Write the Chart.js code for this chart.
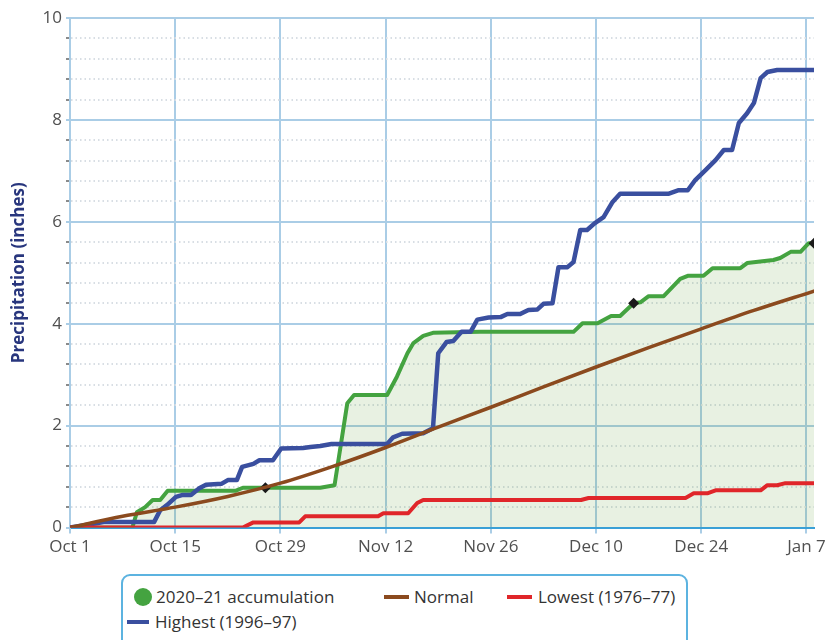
<!DOCTYPE html>
<html>
<head>
<meta charset="utf-8">
<script src="https://cdn.jsdelivr.net/npm/chart.js@4.4.1/dist/chart.umd.min.js"></script>
<style>
  body { margin:0; background:#fff; width:829px; height:640px; overflow:hidden; position:relative; font-family:"Open Sans", sans-serif; }
  #wrap { position:absolute; left:0; top:0; width:829px; height:565px; }
  #legend { position:absolute; left:121px; top:574px; width:567px; height:90px; border:2px solid #5cb3e0; border-radius:9px; box-sizing:border-box; }
  .item { position:absolute; font-size:17px; line-height:20px; color:#333; white-space:nowrap; }
  .sw { position:absolute; height:4px; }
  .dot { position:absolute; width:18px; height:18px; border-radius:50%; background:#44a340; }
</style>
</head>
<body>
<div id="wrap"><canvas id="chart" width="829" height="565"></canvas></div>
<div id="legend"></div>
<div class="dot" style="left:134px;top:588px"></div>
<div class="item" style="left:156px;top:587px">2020–21 accumulation</div>
<div class="sw" style="left:384px;top:595px;width:25px;background:#8b4a1e"></div>
<div class="item" style="left:414px;top:587px">Normal</div>
<div class="sw" style="left:507px;top:595px;width:25px;background:#e0262a"></div>
<div class="item" style="left:538px;top:587px">Lowest (1976–77)</div>
<div class="sw" style="left:127px;top:620px;width:22px;background:#3a4f9f"></div>
<div class="item" style="left:155px;top:612px">Highest (1996–97)</div>
<script>
// --- Data (day 0 = Oct 1) ---
const xTickLabels = ['Oct 1','Oct 15','Oct 29','Nov 12','Nov 26','Dec 10','Dec 24','Jan 7'];

const greenDays = [0, 8.3, 8.9, 10, 11, 12, 13, 22, 23, 26, 33.3, 35.2, 36.9, 37.8, 42.2, 43.5, 44.9, 45.7, 47, 48.3, 54.6, 67, 68.2, 70.2, 72, 73.2, 75, 75.9, 77, 79, 81.2, 82.2, 84.3, 85.5, 89.2, 90.1, 93.6, 94.5, 95.9, 97.2, 98.3, 99];
const greenVals = [0, 0, 0.30, 0.40, 0.54, 0.54, 0.72, 0.72, 0.78, 0.78, 0.78, 0.83, 2.44, 2.60, 2.60, 2.96, 3.42, 3.62, 3.76, 3.82, 3.84, 3.84, 4.01, 4.01, 4.15, 4.15, 4.40, 4.42, 4.54, 4.54, 4.88, 4.94, 4.94, 5.09, 5.09, 5.19, 5.25, 5.29, 5.41, 5.41, 5.58, 5.58];
const markerDays = [26, 75, 99];

const blueDays = [0, 3.3, 4.7, 11.2, 12, 12.9, 14.1, 15, 16.1, 17.2, 18.1, 20.2, 21, 22.2, 22.9, 24.4, 25.2, 27, 28.1, 31, 32, 33.3, 34.8, 42.2, 43, 44.2, 47, 47.9, 48.3, 49, 50.1, 51, 52.1, 53.3, 54.2, 55.7, 57.3, 58.2, 59.9, 61, 62.2, 63, 64.2, 65, 66.2, 67, 67.9, 68.8, 69.8, 71, 72.2, 73.2, 79.6, 81, 82.2, 83.2, 84.6, 85.9, 87, 88.1, 89, 90.1, 91, 91.9, 92.8, 94.1, 99];
const blueVals = [0, 0.08, 0.11, 0.11, 0.34, 0.44, 0.60, 0.64, 0.64, 0.77, 0.84, 0.86, 0.93, 0.93, 1.19, 1.25, 1.32, 1.32, 1.55, 1.56, 1.58, 1.60, 1.64, 1.64, 1.77, 1.84, 1.85, 1.92, 1.95, 3.42, 3.64, 3.66, 3.84, 3.84, 4.08, 4.12, 4.13, 4.19, 4.19, 4.27, 4.28, 4.39, 4.40, 5.11, 5.11, 5.21, 5.84, 5.84, 5.97, 6.09, 6.39, 6.55, 6.55, 6.62, 6.62, 6.82, 7.02, 7.21, 7.41, 7.41, 7.94, 8.13, 8.33, 8.82, 8.94, 8.98, 8.98];

const redDays = [0, 23, 24.4, 30.5, 31.3, 41, 41.7, 45, 46.2, 47, 68, 69, 81.9, 83, 84.8, 85.9, 91.9, 92.8, 94.1, 95.2, 99];
const redVals = [0, 0, 0.10, 0.10, 0.22, 0.22, 0.28, 0.28, 0.48, 0.54, 0.54, 0.58, 0.58, 0.67, 0.67, 0.73, 0.73, 0.83, 0.83, 0.87, 0.87];

const normalDays = [0, 7, 14, 21, 28, 35, 42, 49, 56, 63, 70, 77, 84, 91, 99];
const normalVals = [0, 0.22, 0.40, 0.61, 0.87, 1.20, 1.57, 1.97, 2.36, 2.76, 3.15, 3.53, 3.90, 4.26, 4.64];

const pts = (xs, ys) => xs.map((x, i) => ({x, y: ys[i]}));
const isMajor = v => Math.abs(v / 2 - Math.round(v / 2)) < 1e-6;

new Chart(document.getElementById('chart'), {
  type: 'line',
  data: {
    datasets: [
      {label:'Normal', data:pts(normalDays, normalVals), borderColor:'#8b4a1e', borderWidth:3.5, pointRadius:0, cubicInterpolationMode:'monotone'},
      {label:'Lowest (1976–77)', data:pts(redDays, redVals), borderColor:'#e0262a', borderWidth:4, pointRadius:0},
      {label:'Highest (1996–97)', data:pts(blueDays, blueVals), borderColor:'#3a4f9f', borderWidth:4.5, pointRadius:0},
      {label:'2020–21 accumulation', data:pts(greenDays, greenVals), borderColor:'#44a340', borderWidth:4,
        fill:'origin', backgroundColor:'rgba(100,160,60,0.15)',
        pointStyle:'rectRot', pointBackgroundColor:'#1a1a1a', pointBorderColor:'#1a1a1a', pointBorderWidth:0,
        pointRadius: ctx => (ctx.raw && markerDays.includes(ctx.raw.x)) ? 5.5 : 0}
    ]
  },
  options: {
    responsive:false, animation:false,
    elements:{ line:{ borderJoinStyle:'round', borderCapStyle:'round' } },
    layout:{ padding:{ top:18, right:15, bottom:0, left:0 } },
    plugins:{ legend:{display:false}, tooltip:{enabled:false} },
    scales:{
      x:{
        type:'linear', min:0, max:99,
        afterFit: s => { s.height = 37.5; },
        ticks:{ stepSize:14, includeBounds:false, autoSkip:false, maxRotation:0, padding:3,
          color:'#505050', font:{family:'Open Sans', size:17},
          callback: v => xTickLabels[v / 14] ?? '' },
        grid:{ color:'#aacde6', lineWidth:2, tickLength:6, tickColor:'#aacde6' },
        border:{ color:'#3aa0d8', width:2 }
      },
      y:{
        min:0, max:10,
        afterFit: s => { s.width = 70; },
        title:{ display:true, text:'Precipitation (inches)', color:'#28367d',
          font:{family:'Open Sans', size:17, weight:'bold'}, padding:{top:9, bottom:0} },
        ticks:{ stepSize:0.4, autoSkip:false, padding:4, color:'#505050',
          font:{family:'Open Sans', size:17},
          callback: v => isMajor(v) ? String(Math.round(v)) : '' },
        grid:{
          color: ctx => ctx.tick && ctx.tick.value === 0 ? '#3aa0d8' : (isMajor(ctx.tick ? ctx.tick.value : 0) ? '#aacde6' : '#d8dee4'),
          lineWidth:2,
          tickLength:4,
          tickColor: ctx => ctx.tick && isMajor(ctx.tick.value) ? '#aacde6' : '#8a8a8a'
        },
        border:{ color:'#aacde6', width:2,
          dash: ctx => ctx.tick && !isMajor(ctx.tick.value) ? [1.5, 3] : [] }
      }
    }
  }
});
</script>
</body>
</html>
